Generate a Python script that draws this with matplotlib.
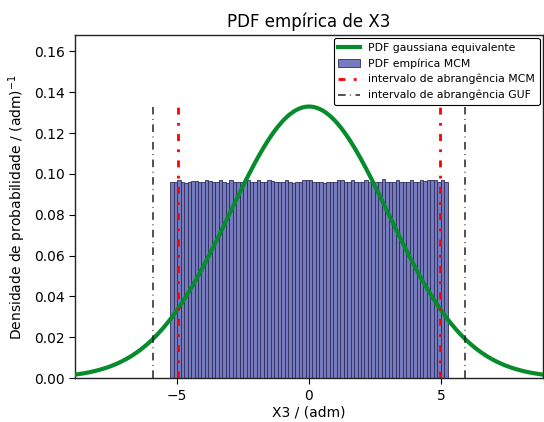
import numpy as np
import matplotlib
matplotlib.use('Agg')
import matplotlib.pyplot as plt

# dados
media = 0.0
desvio = 3.0           # gaussiana equivalente
lim_inf, lim_sup = -5.25, 5.25   # faixa do histograma
alturas = [0.0958, 0.0962, 0.0972, 0.0962, 0.0955, 0.0958, 0.0965, 0.0965, 0.0960, 0.0962,
           0.0968, 0.0965, 0.0958, 0.0958, 0.0968, 0.0962, 0.0955, 0.0970, 0.0962, 0.0958,
           0.0960, 0.0965, 0.0972, 0.0962, 0.0958, 0.0968, 0.0962, 0.0960, 0.0970, 0.0965,
           0.0958, 0.0960, 0.0962, 0.0968, 0.0958, 0.0955, 0.0960, 0.0962, 0.0970, 0.0972,
           0.0968, 0.0958, 0.0962, 0.0960, 0.0955, 0.0958, 0.0962, 0.0960, 0.0972, 0.0970,
           0.0962, 0.0960, 0.0968, 0.0962, 0.0958, 0.0962, 0.0970, 0.0962, 0.0955, 0.0962,
           0.0960, 0.0975, 0.0962, 0.0958, 0.0960, 0.0968, 0.0962, 0.0958, 0.0962, 0.0970,
           0.0958, 0.0962, 0.0968, 0.0965, 0.0970, 0.0968, 0.0970, 0.0962, 0.0968, 0.0962]
int_mcm = [-4.95, 4.95]
int_guf = [-5.9, 5.9]

bordas = np.linspace(lim_inf, lim_sup, len(alturas) + 1)

fig = plt.figure(figsize=(5.44, 4.22), dpi=100)
ax = fig.add_axes([0.138, 0.104, 0.86, 0.813])

_, _, barras = ax.hist(bordas[:-1], bins=bordas, weights=alturas, color='#767bbd',
                       edgecolor='#2e2e5e', linewidth=0.6, label=u'PDF empírica MCM', zorder=1)

x = np.linspace(-9, 9, 500)
pdf = np.exp(-0.5 * ((x - media) / desvio) ** 2) / (desvio * np.sqrt(2 * np.pi))
linha, = ax.plot(x, pdf, color='#068c2c', lw=3, label='PDF gaussiana equivalente', zorder=3)

topo = pdf.max()
v1 = ax.vlines(int_mcm, 0, topo, colors='red', linestyles=(0, (2.5, 3, 1, 3)), lw=2,
               label=u'intervalo de abrangência MCM', zorder=4)
v2 = ax.vlines(int_guf, 0, topo, colors='#222222', linestyles=(0, (5, 3, 0.5, 3)), lw=1.1,
               label=u'intervalo de abrangência GUF', zorder=4)

ax.set_xlim(-8.85, 8.85)
ax.set_ylim(0, 0.168)
ax.set_xticks([-5, 0, 5])
ax.set_yticks(np.arange(0, 0.161, 0.02))
ax.set_yticklabels(['%.2f' % v for v in np.arange(0, 0.161, 0.02)])
ax.tick_params(labelsize=10, direction='out', top=False, right=False, length=4)
for s in ax.spines.values():
    s.set_linewidth(1.0)
    s.set_color('#222222')

ax.set_title(u'PDF empírica de X3', fontsize=12)
ax.set_xlabel('X3 / (adm)', fontsize=10, labelpad=2)
ax.set_ylabel(r'Densidade de probabilidade / (adm)$^{-1}$', fontsize=10)

leg = ax.legend([linha, barras[0], v1, v2],
                ['PDF gaussiana equivalente', u'PDF empírica MCM',
                 u'intervalo de abrangência MCM', u'intervalo de abrangência GUF'],
                loc='upper right', fontsize=7.8, fancybox=True, framealpha=1,
                edgecolor='black', handlelength=2.0, borderaxespad=0.3)
leg.get_frame().set_linewidth(0.8)

fig.savefig('out.png', dpi=100)
